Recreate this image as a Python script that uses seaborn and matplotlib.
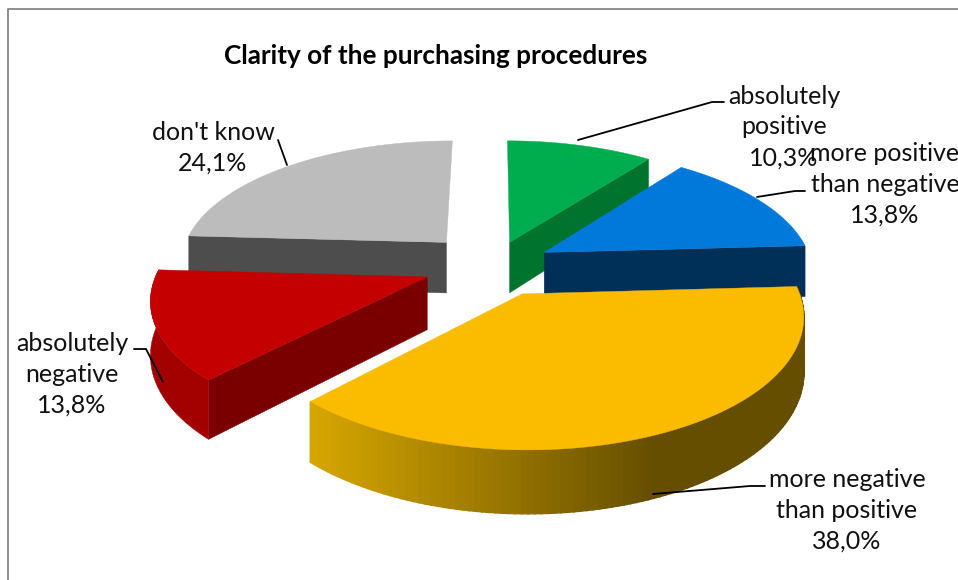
import numpy as np
import matplotlib
matplotlib.use("Agg")
import matplotlib.pyplot as plt
import seaborn as sns

categories = ["absolutely\npositive", "more positive\nthan negative", "more negative\nthan positive",
              "absolutely\nnegative", "don't know"]
values = [10.3, 13.8, 38.0, 13.8, 24.1]
value_labels = ["10,3%", "13,8%", "38,0%", "13,8%", "24,1%"]
title = "Clarity of the purchasing procedures"

explode = [0.20, 0.22, 0.25, 0.26, 0.26]
top_colors = ["#00ad4e", "#0079db", "#fbbc00", "#c40000", "#bcbcbc"]
side_colors = ["#00732f", "#003058", "#6b5400", "#7a0000", "#4d4d4d"]
rim_red = "#a30000"
draw_order = [4, 0, 3, 1, 2]

# projection of the flat pie onto the picture (pixels)
cx, cy, A, B, k, h = 493, 265, 268, 123, 0.15, 52

sns.set_theme(style="white")
plt.rcParams["font.family"] = ["Lato", "DejaVu Sans"]

fig = plt.figure(figsize=(9.58, 5.8), dpi=100)

# pie lays out the slices, they are projected afterwards
layout_ax = fig.add_axes([0, 0, 1, 1])
wedges, _ = layout_ax.pie(values, explode=explode, startangle=90, counterclock=False,
                          colors=sns.color_palette(top_colors))
slices = [(w.center, w.r, w.theta1, w.theta2) for w in wedges]
layout_ax.remove()

ax = fig.add_axes([0, 0, 1, 1])
ax.set_xlim(0, 958)
ax.set_ylim(580, 0)
ax.axis("off")


def project(x, y, z=0.0):
    s = 1 / (1 + k * y)
    return cx + A * x * s, cy - B * y * s + h * s * z


def rim(center, r, t1, t2, n=120):
    t = np.radians(np.linspace(t1, t2, n))
    return center[0] + r * np.cos(t), center[1] + r * np.sin(t)


def wall(x, y, color, lw=0.3):
    # x, y run along the top edge, the wall hangs below them
    sx0, sy0 = project(x, y)
    sx1, sy1 = project(x, y, 1.0)
    ax.fill(np.r_[sx0, sx1[::-1]], np.r_[sy0, sy1[::-1]], color=color, lw=lw)


gradient = sns.blend_palette(["#d6a600", "#654e00"], 80)

for i in draw_order:
    center, r, t1, t2 = slices[i]
    x, y = rim(center, r, t1, t2)

    # radial side seen from the front
    if i in (0, 1):
        wall(np.array([center[0], x[0]]), np.array([center[1], y[0]]), side_colors[i])
    if i in (3, 4):
        wall(np.array([center[0], x[-1]]), np.array([center[1], y[-1]]), side_colors[i])

    # outer side
    if i == 2:
        for j in range(len(x) - 1):
            sx, _ = project(x[j], y[j])
            idx = int(np.clip((sx - 310) / (650 - 310) * 79, 0, 79))
            wall(x[j:j + 2], y[j:j + 2], gradient[idx], lw=1.2)
    elif i == 3:
        wall(x, y, rim_red)

    # top face
    px = np.r_[center[0], x]
    py = np.r_[center[1], y]
    sx, sy = project(px, py)
    ax.fill(sx, sy, color=top_colors[i], lw=0.3)

# leader lines
leaders = [
    ([578, 712, 724], [140, 102, 102]),
    ([757, 795, 805], [197, 191, 191]),
    ([653, 750, 765], [494, 486, 486]),
    ([134, 146, 163], [349, 349, 382]),
    ([278, 287], [140, 165]),
]
for lx, ly in leaders:
    ax.plot(lx, ly, color="black", lw=1.3)

label_pos = [(784, 127), (885, 184), (847, 510), (72, 374), (213, 148)]
for cat, val, (lx, ly) in zip(categories, value_labels, label_pos):
    ax.text(lx, ly, cat + "\n" + val, ha="center", va="center", fontsize=18,
            color="#111111", linespacing=1.4)

ax.text(436, 56, title, ha="center", va="center", fontsize=18.8, fontweight="bold", color="black")

# chart frame
ax.plot([8, 8, 958], [580, 9, 9], color="#868686", lw=1.3)

fig.savefig("out.png", dpi=100)
